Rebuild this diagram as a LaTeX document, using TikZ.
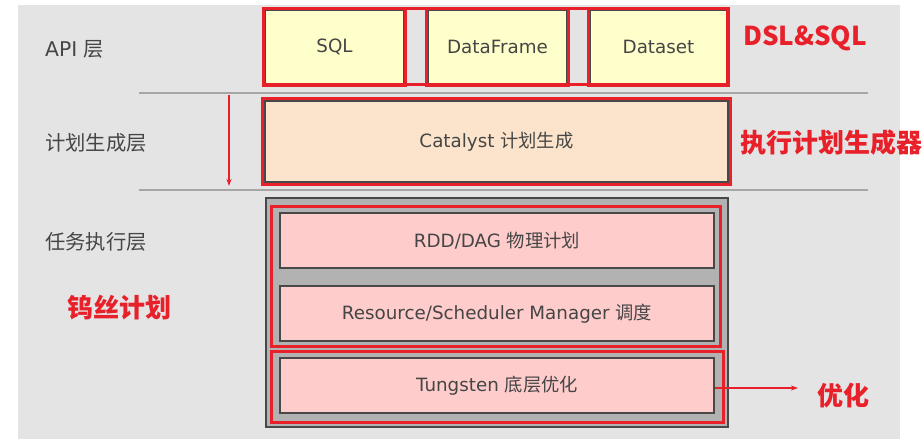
\documentclass[tikz,border=0pt]{standalone}
\usepackage{fontspec}
\setmainfont{DejaVu Sans}
\newfontfamily\cjk{Noto Sans CJK SC}
\usetikzlibrary{arrows.meta}
\definecolor{bg}{HTML}{E4E4E4}
\definecolor{txt}{HTML}{454545}
\definecolor{rd}{HTML}{E8202A}
\definecolor{bord}{HTML}{484848}
\definecolor{yel}{HTML}{FFFFCC}
\definecolor{peach}{HTML}{FCE4CC}
\definecolor{pink}{HTML}{FFCCCC}
\definecolor{midgray}{HTML}{B2B2B2}
\definecolor{sep}{HTML}{A6A6A6}
\tikzset{
  box/.style={draw=bord, line width=2.5pt, text=txt, font=\fontsize{18.3}{20}\selectfont, inner sep=0pt, anchor=center},
  redframe/.style={draw=rd, line width=3pt},
  layerlbl/.style={text=txt, font=\fontsize{20.3}{22}\selectfont, anchor=west, inner sep=0pt},
  redlbl/.style={text=rd, font=\cjk\bfseries\fontsize{26}{28}\selectfont, inner sep=0pt},
  redarrow/.style={draw=rd, line width=1.3pt, -{Stealth[length=7pt,width=5pt]}},
}
\begin{document}
\begin{tikzpicture}[x=1pt,y=-1pt]
\useasboundingbox (0,0) rectangle (924,439);
\fill[white] (0,0) rectangle (924,439);
\fill[bg] (18,5) rectangle (900,439);
% separators
\draw[sep, line width=2pt] (139,93) -- (868,93);
\draw[sep, line width=2pt] (139,190) -- (868,190);
% layer labels
\node[layerlbl] (lapi) at (45,49) {API {\cjk 层}};
\node[layerlbl] (lplan) at (45,143) {\cjk 计划生成层};
\node[layerlbl] (lexec) at (45,242) {\cjk 任务执行层};
% API boxes
\node[box, fill=yel, minimum width=139pt, minimum height=74pt] (sql) at (334.5,47) {SQL};
\node[box, fill=yel, minimum width=139pt, minimum height=74pt] (df) at (497.5,47) {DataFrame};
\node[box, fill=yel, minimum width=137pt, minimum height=74pt] (ds) at (658.5,47) {Dataset};
\draw[redframe] (sql.north west) rectangle (sql.south east);
\draw[redframe] (df.north west) rectangle (df.south east);
\draw[redframe] (ds.north west) rectangle (ds.south east);
\draw[redframe] (263,8) rectangle (727,84);
% Catalyst
\node[box, fill=peach, minimum width=463pt, minimum height=81pt] (cat) at (496.5,141.5) {Catalyst {\cjk 计划生成}};
\draw[redframe] ([shift={(-1,-1)}]cat.north west) rectangle ([shift={(1,1)}]cat.south east);
% execution layer
\node[box, fill=midgray, minimum width=462pt, minimum height=229pt] (exec) at (497,312.5) {};
\draw[redframe] (271,206) rectangle (720,346);
\draw[redframe] (271,351) rectangle (723,422);
\node[box, fill=pink, minimum width=434pt, minimum height=55pt] (rdd) at (497,240.5) {RDD/DAG {\cjk 物理计划}};
\node[box, fill=pink, minimum width=434pt, minimum height=55pt] (res) at (497,313.5) {Resource/Scheduler Manager {\cjk 调度}};
\node[box, fill=pink, minimum width=434pt, minimum height=55pt] (tung) at (497,385.5) {Tungsten {\cjk 底层优化}};
% arrows
\coordinate (downA) at (229,95);
\coordinate (downB) at (229,186);
\draw[redarrow] (downA) -- (downB);
\coordinate (optend) at (798,388);
\draw[redarrow] (tung.east |- optend) -- (optend);
% red labels
\node[redlbl] (dsl) at (805,38) {DSL\&SQL};
\node[redlbl, anchor=west] (gen) at (740,143) {执行计划生成器};
\node[redlbl] (tungl) at (119,308) {钨丝计划};
\node[redlbl] (opt) at (843,396) {优化};
\end{tikzpicture}
\end{document}
